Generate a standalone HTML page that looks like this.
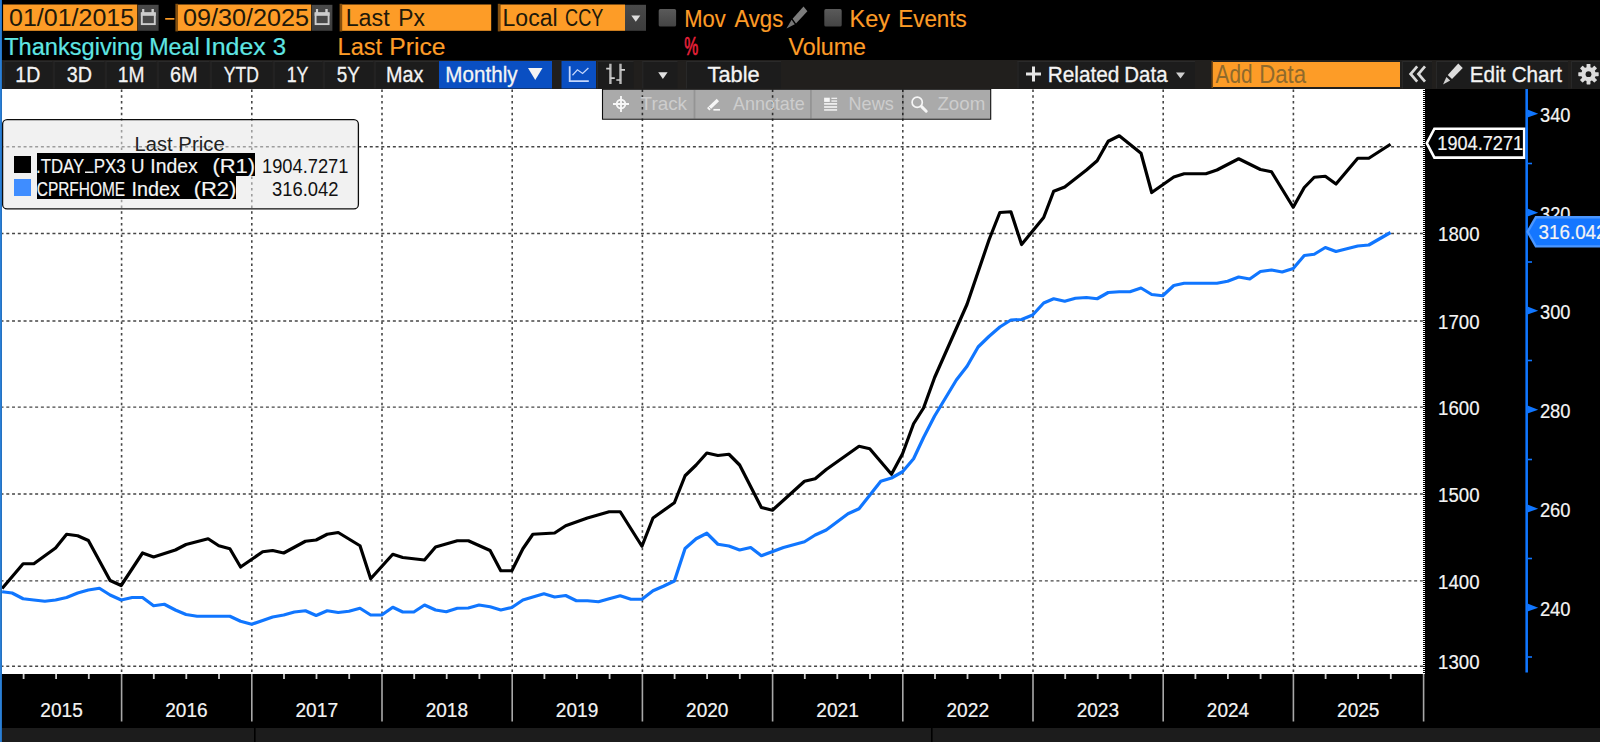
<!DOCTYPE html><html><head><meta charset="utf-8"><title>Chart</title>
<style>html,body{margin:0;padding:0;background:#000;overflow:hidden}svg{display:block}text{font-family:"Liberation Sans",sans-serif;white-space:pre}</style>
</head><body>
<svg width="1600" height="742" viewBox="0 0 1600 742">
<rect width="1600" height="742" fill="#000"/>
<rect x="2" y="89" width="1421" height="585" fill="#fff"/>
<g stroke="#464646" fill="none">
<line x1="0.5" y1="146.7" x2="1423" y2="146.7" stroke-width="1.4" stroke-dasharray="3 2.77"/>
<line x1="0.5" y1="233.5" x2="1423" y2="233.5" stroke-width="1.4" stroke-dasharray="3 2.77"/>
<line x1="0.5" y1="321.0" x2="1423" y2="321.0" stroke-width="1.4" stroke-dasharray="3 2.77"/>
<line x1="0.5" y1="407.1" x2="1423" y2="407.1" stroke-width="1.4" stroke-dasharray="3 2.77"/>
<line x1="0.5" y1="494.0" x2="1423" y2="494.0" stroke-width="1.4" stroke-dasharray="3 2.77"/>
<line x1="0.5" y1="580.9" x2="1423" y2="580.9" stroke-width="1.4" stroke-dasharray="3 2.77"/>
<line x1="0.5" y1="666.3" x2="1423" y2="666.3" stroke-width="1.4" stroke-dasharray="3 2.77"/>
<line x1="121.6" y1="89.5" x2="121.6" y2="674" stroke-width="1.6" stroke-dasharray="2.5 3.3"/>
<line x1="251.8" y1="89.5" x2="251.8" y2="674" stroke-width="1.6" stroke-dasharray="2.5 3.3"/>
<line x1="382.0" y1="89.5" x2="382.0" y2="674" stroke-width="1.6" stroke-dasharray="2.5 3.3"/>
<line x1="512.2" y1="89.5" x2="512.2" y2="674" stroke-width="1.6" stroke-dasharray="2.5 3.3"/>
<line x1="642.4" y1="89.5" x2="642.4" y2="674" stroke-width="1.6" stroke-dasharray="2.5 3.3"/>
<line x1="772.6" y1="89.5" x2="772.6" y2="674" stroke-width="1.6" stroke-dasharray="2.5 3.3"/>
<line x1="902.8" y1="89.5" x2="902.8" y2="674" stroke-width="1.6" stroke-dasharray="2.5 3.3"/>
<line x1="1033.0" y1="89.5" x2="1033.0" y2="674" stroke-width="1.6" stroke-dasharray="2.5 3.3"/>
<line x1="1163.2" y1="89.5" x2="1163.2" y2="674" stroke-width="1.6" stroke-dasharray="2.5 3.3"/>
<line x1="1293.4" y1="89.5" x2="1293.4" y2="674" stroke-width="1.6" stroke-dasharray="2.5 3.3"/>
</g>
<line x1="1424" y1="89" x2="1424" y2="674" stroke="#fff" stroke-width="2" stroke-dasharray="1 1" shape-rendering="crispEdges"/>
<polyline points="2.09,591.75 12.08,593 23.13,598.75 33.82,600 44.87,601.25 55.56,600 66.61,597.5 77.67,593 88.36,590 99.41,588.25 110.1,595 121.15,600 132.2,597.5 142.54,597.5 153.59,605.75 164.29,604.25 175.34,610 186.03,614.5 197.08,616.25 229.88,616.25 240.57,621.25 251.62,624.25 262.67,620.5 272.65,617 283.7,615 294.4,612 305.45,610.75 316.14,615.5 327.19,610.75 338.24,612.5 348.94,611.25 359.99,608.25 370.68,615 381.73,615 392.78,607.25 402.76,612 413.81,612 424.51,605 435.56,610 446.25,611.75 457.3,608.25 468.35,608 479.05,605 490.1,606.75 500.79,610 511.84,607.5 522.89,600 532.88,597 543.93,593.75 554.62,597 565.67,595.5 576.36,600.75 587.41,600.75 598.47,601.75 609.16,598.75 620.21,595.75 630.9,599.25 641.95,599.25 653.0,590.75 663.34,586.25 674.39,581 685.09,548.5 696.14,538.75 706.83,533.25 717.88,544.25 728.93,546 739.63,550 750.68,547.5 761.37,555.75 783.47,547.5 804.5,541.75 815.2,535 826.25,530 847.99,513.75 859.04,508.75 880.79,481.25 891.48,478 902.53,471.75 913.58,458.75 923.56,437.5 934.61,416 956.36,380 967.05,366.25 978.1,347 989.15,336.25 999.85,327 1010.9,320 1021.59,319.5 1032.64,315 1043.69,303 1053.68,298.75 1064.73,301.25 1075.42,298.25 1086.47,297.5 1097.16,298.75 1108.21,292.5 1119.27,291.75 1129.96,291.75 1141.01,288 1151.7,294.5 1162.75,295.75 1173.8,285.5 1184.14,283.25 1216.94,283.25 1227.63,281.25 1238.68,277 1249.73,279 1260.43,271.5 1271.48,270 1282.17,272 1293.22,268.5 1304.27,255.5 1314.25,254.25 1325.3,247.5 1336.0,251.5 1357.74,246 1368.79,245 1390.54,232.5" fill="none" stroke="#1076ff" stroke-width="3.2" stroke-linejoin="round" stroke-linecap="butt"/>
<polyline points="2.09,588.5 23.13,563.75 33.82,563.75 55.56,548 66.61,534.25 77.67,535.75 88.36,540.5 110.1,580.5 121.15,585.5 142.54,553 153.59,557 175.34,550 186.03,544.5 208.13,538.75 218.83,545.75 229.88,548.75 240.57,567 262.67,551.75 272.65,550.5 283.7,553 305.45,541.25 316.14,540 327.19,534.25 338.24,532.5 359.99,545.75 370.68,578.75 392.78,554.25 402.76,557.5 424.51,560 435.56,547 457.3,540.75 468.35,540.75 490.1,550.5 500.79,570.75 511.84,570.75 522.89,548.75 532.88,534.25 554.62,533 565.67,525.75 587.41,518 609.16,511.75 620.21,511.75 641.95,546.25 653.0,518 674.39,502.75 685.09,475.75 696.14,465 706.83,453 717.88,455.5 728.93,454.25 739.63,465 761.37,507.5 772.42,510.25 804.5,481.25 815.2,478.75 826.25,469.5 859.04,446.25 869.74,448.75 891.48,474.25 902.53,453.75 913.58,423.75 923.56,408 934.61,377.5 967.05,304.25 989.15,239.5 999.85,212.5 1010.9,211.75 1021.59,244.5 1043.69,217.5 1053.68,191.25 1064.73,187 1086.47,170 1097.16,160.75 1108.21,141.25 1119.27,135.75 1141.01,153.25 1151.7,192.5 1173.8,177 1184.14,173.75 1205.89,173.75 1216.94,170 1238.68,158.75 1260.43,169.5 1271.48,171.75 1293.22,207.25 1304.27,187.5 1314.25,177.25 1325.3,176.25 1336.0,184 1357.74,158.25 1368.79,158.25 1390.54,144.25" fill="none" stroke="#000" stroke-width="3.2" stroke-linejoin="round" stroke-linecap="butt"/>
<rect x="603" y="89" width="387.5" height="30" fill="#000" fill-opacity="0.335"/>
<path d="M602.5 89.2V119.3H990.7V89.2Z" fill="none" stroke="#0c0c0c" stroke-width="1.1"/>
<rect x="693.6" y="90" width="1.8" height="28.5" fill="#000" opacity="0.13"/>
<rect x="810" y="90" width="1.8" height="28.5" fill="#000" opacity="0.13"/>
<rect x="902" y="90" width="1.8" height="28.5" fill="#000" opacity="0.13"/>
<g stroke="#f6f6f6" stroke-width="1.9" fill="none"><circle cx="621" cy="104" r="4.3"/><path d="M621 96v16M613 104h16"/></g>
<g stroke="#f6f6f6" fill="none"><path d="M708.2 109.2L717.9 100.1" stroke-width="3.4"/><path d="M713.4 109.8H720" stroke-width="1.7"/></g><path d="M708.6 106.6l2.6 2.8" stroke="#aaa" stroke-width="0.8"/>
<g fill="#f6f6f6"><rect x="824.1" y="97.7" width="5.7" height="4.2"/><rect x="831.4" y="97.7" width="5.7" height="1.2"/><rect x="831.4" y="100.4" width="5.7" height="1.3"/><rect x="824.1" y="103.1" width="13" height="1.6"/><rect x="824.1" y="106.2" width="13" height="1.6"/><rect x="824.1" y="109.2" width="13" height="1.5"/></g>
<g stroke="#f6f6f6" fill="none"><circle cx="917.2" cy="102.3" r="5.1" stroke-width="1.7"/><path d="M921.6 106.6l4.6 4.6" stroke-width="3" stroke-linecap="round"/></g>
<rect x="2.6" y="119.7" width="355.8" height="89.2" rx="4.5" ry="4.5" fill="#e6e6e6" fill-opacity="0.55" stroke="#0c0c0c" stroke-width="1.3"/>
<rect x="14" y="156" width="17" height="17" fill="#000"/>
<rect x="14" y="179" width="17" height="17" fill="#3f8dff"/>
<rect x="37" y="153" width="218" height="23" fill="#000"/>
<rect x="37" y="176" width="199" height="23" fill="#000"/>
<rect x="85" y="171.5" width="8.6" height="1.5" fill="#f0f0f0"/>
<rect x="3" y="4.5" width="134.3" height="26.3" fill="#fd9c27"/>
<rect x="0.6000000000000001" y="3.8" width="2.6" height="27.6" fill="#85500f"/>
<rect x="177.8" y="4.5" width="133.4" height="26.3" fill="#fd9c27"/>
<rect x="175.4" y="3.8" width="2.6" height="27.6" fill="#85500f"/>
<rect x="342" y="4.5" width="149.2" height="26.3" fill="#fd9c27"/>
<rect x="339.6" y="3.8" width="2.6" height="27.6" fill="#85500f"/>
<rect x="500.2" y="4.5" width="124.8" height="26.3" fill="#fd9c27"/>
<rect x="497.8" y="3.8" width="2.6" height="27.6" fill="#85500f"/>
<defs><linearGradient id="gbox" x1="0" y1="0" x2="0" y2="1"><stop offset="0" stop-color="#494949"/><stop offset="1" stop-color="#3d3d3d"/></linearGradient><linearGradient id="gchk" x1="0" y1="0" x2="0" y2="1"><stop offset="0" stop-color="#5a5a5a"/><stop offset="1" stop-color="#444"/></linearGradient></defs>
<rect x="138" y="4.8" width="20.6" height="26" fill="url(#gbox)"/>
<rect x="141.8" y="13.3" width="13.0" height="10.8" fill="#484848" stroke="#cdcdcd" stroke-width="1.9"/>
<rect x="140.9" y="12.4" width="14.8" height="3.4" fill="#cdcdcd"/>
<rect x="142.1" y="9" width="2.2" height="4" fill="#cdcdcd"/><rect x="151.5" y="9" width="2.4" height="4" fill="#cdcdcd"/>
<rect x="311.8" y="4.8" width="20.6" height="26" fill="url(#gbox)"/>
<rect x="315.6" y="13.3" width="13.0" height="10.8" fill="#484848" stroke="#cdcdcd" stroke-width="1.9"/>
<rect x="314.7" y="12.4" width="14.8" height="3.4" fill="#cdcdcd"/>
<rect x="315.90000000000003" y="9" width="2.2" height="4" fill="#cdcdcd"/><rect x="325.3" y="9" width="2.4" height="4" fill="#cdcdcd"/>
<rect x="165.2" y="18" width="9.2" height="1.7" fill="#fd9c27"/>
<rect x="625" y="4.8" width="21" height="26" fill="url(#gbox)"/>
<path d="M631.3 15.4h9l-4.5 6.4z" fill="#ddd"/>
<rect x="658.7" y="9.1" width="17.4" height="17.4" rx="1.6" fill="url(#gchk)"/>
<rect x="824.3" y="9.1" width="17.4" height="17.4" rx="1.6" fill="url(#gchk)"/>
<path d="M803.5 6.5L807.4 11.2L796 23.5L792.6 18.8Z" fill="#7c7c7c"/><path d="M791.6 19.8L794.8 24.3L786.5 28.5Z" fill="#777"/>
<rect x="2" y="60" width="1598" height="29" fill="#211f1d"/>
<rect x="3.5" y="61" width="49.0" height="27.5" fill="#1c1c1c"/>
<rect x="3.5" y="61" width="49.0" height="1" fill="#2a2a2a"/>
<rect x="3.5" y="61" width="1" height="27.5" fill="#282828"/>
<rect x="53.5" y="61" width="51.0" height="27.5" fill="#1c1c1c"/>
<rect x="53.5" y="61" width="51.0" height="1" fill="#2a2a2a"/>
<rect x="53.5" y="61" width="1" height="27.5" fill="#282828"/>
<rect x="105.5" y="61" width="51.0" height="27.5" fill="#1c1c1c"/>
<rect x="105.5" y="61" width="51.0" height="1" fill="#2a2a2a"/>
<rect x="105.5" y="61" width="1" height="27.5" fill="#282828"/>
<rect x="157.5" y="61" width="52.0" height="27.5" fill="#1c1c1c"/>
<rect x="157.5" y="61" width="52.0" height="1" fill="#2a2a2a"/>
<rect x="157.5" y="61" width="1" height="27.5" fill="#282828"/>
<rect x="210.5" y="61" width="62.0" height="27.5" fill="#1c1c1c"/>
<rect x="210.5" y="61" width="62.0" height="1" fill="#2a2a2a"/>
<rect x="210.5" y="61" width="1" height="27.5" fill="#282828"/>
<rect x="273.5" y="61" width="49.0" height="27.5" fill="#1c1c1c"/>
<rect x="273.5" y="61" width="49.0" height="1" fill="#2a2a2a"/>
<rect x="273.5" y="61" width="1" height="27.5" fill="#282828"/>
<rect x="323.5" y="61" width="50.0" height="27.5" fill="#1c1c1c"/>
<rect x="323.5" y="61" width="50.0" height="1" fill="#2a2a2a"/>
<rect x="323.5" y="61" width="1" height="27.5" fill="#282828"/>
<rect x="374.5" y="61" width="64.0" height="27.5" fill="#1c1c1c"/>
<rect x="374.5" y="61" width="64.0" height="1" fill="#2a2a2a"/>
<rect x="374.5" y="61" width="1" height="27.5" fill="#282828"/>
<rect x="439" y="61" width="113" height="27.5" fill="#0a4fc2"/>
<rect x="561.5" y="61" width="34.5" height="27.5" fill="#0a4fc2"/>
<rect x="597" y="61" width="36.60000000000002" height="27.5" fill="#1c1c1c"/>
<rect x="597" y="61" width="36.60000000000002" height="1" fill="#2a2a2a"/>
<rect x="597" y="61" width="1" height="27.5" fill="#282828"/>
<rect x="642.3" y="61" width="35.200000000000045" height="27.5" fill="#1c1c1c"/>
<rect x="642.3" y="61" width="35.200000000000045" height="1" fill="#2a2a2a"/>
<rect x="642.3" y="61" width="1" height="27.5" fill="#282828"/>
<rect x="686" y="61" width="95" height="27.5" fill="#1c1c1c"/>
<rect x="686" y="61" width="95" height="1" fill="#2a2a2a"/>
<rect x="686" y="61" width="1" height="27.5" fill="#282828"/>
<rect x="1017.5" y="61" width="177.5" height="27.5" fill="#1c1c1c"/>
<rect x="1017.5" y="61" width="177.5" height="1" fill="#2a2a2a"/>
<rect x="1017.5" y="61" width="1" height="27.5" fill="#282828"/>
<rect x="1402" y="61" width="30" height="27.5" fill="#1c1c1c"/>
<rect x="1402" y="61" width="30" height="1" fill="#2a2a2a"/>
<rect x="1402" y="61" width="1" height="27.5" fill="#282828"/>
<rect x="1436" y="61" width="132" height="27.5" fill="#1c1c1c"/>
<rect x="1436" y="61" width="132" height="1" fill="#2a2a2a"/>
<rect x="1436" y="61" width="1" height="27.5" fill="#282828"/>
<rect x="1571" y="61" width="29" height="27.5" fill="#1c1c1c"/>
<rect x="1571" y="61" width="29" height="1" fill="#2a2a2a"/>
<rect x="1571" y="61" width="1" height="27.5" fill="#282828"/>
<path d="M528 68h14.5l-7.25 12z" fill="#f4f4f4"/>
<g fill="none" stroke="#c4d6fb"><path d="M569.7 66.2V81.1H588.8" stroke-width="1.8"/><path d="M572.5 75.2L577.4 69.8L582.6 73.5L588.4 68.1" stroke-width="1.3"/></g>
<g stroke="#b8b8b8" fill="none"><path d="M610.4 63.7V84M620.5 63.7V84" stroke-width="2.4"/><path d="M606.2 68.6H610.4M610.4 78.1H614.8M616.3 80H620.5M620.5 69.8H625" stroke-width="1.7" stroke="#cfcfcf"/></g>
<path d="M658.2 72.3h9.4l-4.7 6.6z" fill="#e0e0e0"/>
<path d="M1026 74h15M1033.5 66.5v15" stroke="#e6e6e6" stroke-width="3" fill="none"/>
<path d="M1176 72.5h9l-4.5 6z" fill="#cfcfcf"/>
<rect x="1212.5" y="62" width="187.5" height="25" fill="#fd9c27"/>
<rect x="1211.5" y="61" width="1.5" height="27" fill="#7a4a10"/>
<g fill="none" stroke="#dadada" stroke-width="2.7"><path d="M1417.2 66.3l-6.6 7.7 6.6 7.7M1425 66.3l-6.6 7.7 6.6 7.7"/></g>
<path d="M1458.25 63.5L1462.75 68L1452 79L1447.75 75Z" fill="#dcdcdc"/><path d="M1446.4 76.9L1450.2 80.6L1443 84.5Z" fill="#d0d0d0"/>
<g transform="translate(1588.5,74.2)" fill="#dcdcdc"><rect x="-1.95" y="-10.2" width="3.9" height="5" rx="0.6" transform="rotate(0)"/><rect x="-1.95" y="-10.2" width="3.9" height="5" rx="0.6" transform="rotate(45)"/><rect x="-1.95" y="-10.2" width="3.9" height="5" rx="0.6" transform="rotate(90)"/><rect x="-1.95" y="-10.2" width="3.9" height="5" rx="0.6" transform="rotate(135)"/><rect x="-1.95" y="-10.2" width="3.9" height="5" rx="0.6" transform="rotate(180)"/><rect x="-1.95" y="-10.2" width="3.9" height="5" rx="0.6" transform="rotate(225)"/><rect x="-1.95" y="-10.2" width="3.9" height="5" rx="0.6" transform="rotate(270)"/><rect x="-1.95" y="-10.2" width="3.9" height="5" rx="0.6" transform="rotate(315)"/><circle r="7.3" /><circle r="2.9" fill="#1c1c1c"/></g>
<g fill="#cfcfcf">
<rect x="22.7" y="674" width="1.8" height="5"/>
<rect x="55.2" y="674" width="1.8" height="5"/>
<rect x="87.9" y="674" width="1.8" height="5"/>
<rect x="152.9" y="674" width="1.8" height="5"/>
<rect x="185.4" y="674" width="1.8" height="5"/>
<rect x="218.1" y="674" width="1.8" height="5"/>
<rect x="283.1" y="674" width="1.8" height="5"/>
<rect x="315.6" y="674" width="1.8" height="5"/>
<rect x="348.3" y="674" width="1.8" height="5"/>
<rect x="413.3" y="674" width="1.8" height="5"/>
<rect x="445.8" y="674" width="1.8" height="5"/>
<rect x="478.5" y="674" width="1.8" height="5"/>
<rect x="543.5" y="674" width="1.8" height="5"/>
<rect x="576.0" y="674" width="1.8" height="5"/>
<rect x="608.7" y="674" width="1.8" height="5"/>
<rect x="673.7" y="674" width="1.8" height="5"/>
<rect x="706.2" y="674" width="1.8" height="5"/>
<rect x="738.9" y="674" width="1.8" height="5"/>
<rect x="803.9" y="674" width="1.8" height="5"/>
<rect x="836.4" y="674" width="1.8" height="5"/>
<rect x="869.1" y="674" width="1.8" height="5"/>
<rect x="934.1" y="674" width="1.8" height="5"/>
<rect x="966.6" y="674" width="1.8" height="5"/>
<rect x="999.3" y="674" width="1.8" height="5"/>
<rect x="1064.3" y="674" width="1.8" height="5"/>
<rect x="1096.8" y="674" width="1.8" height="5"/>
<rect x="1129.5" y="674" width="1.8" height="5"/>
<rect x="1194.5" y="674" width="1.8" height="5"/>
<rect x="1227.0" y="674" width="1.8" height="5"/>
<rect x="1259.7" y="674" width="1.8" height="5"/>
<rect x="1324.7" y="674" width="1.8" height="5"/>
<rect x="1357.2" y="674" width="1.8" height="5"/>
<rect x="1389.9" y="674" width="1.8" height="5"/>
</g>
<rect x="120.80" y="674" width="1.6" height="47.5" fill="#a8a8a8"/>
<rect x="251.00" y="674" width="1.6" height="47.5" fill="#a8a8a8"/>
<rect x="381.20" y="674" width="1.6" height="47.5" fill="#a8a8a8"/>
<rect x="511.40" y="674" width="1.6" height="47.5" fill="#a8a8a8"/>
<rect x="641.60" y="674" width="1.6" height="47.5" fill="#a8a8a8"/>
<rect x="771.80" y="674" width="1.6" height="47.5" fill="#a8a8a8"/>
<rect x="902.00" y="674" width="1.6" height="47.5" fill="#a8a8a8"/>
<rect x="1032.20" y="674" width="1.6" height="47.5" fill="#a8a8a8"/>
<rect x="1162.40" y="674" width="1.6" height="47.5" fill="#a8a8a8"/>
<rect x="1292.60" y="674" width="1.6" height="47.5" fill="#a8a8a8"/>
<rect x="1422.80" y="674" width="1.6" height="47.5" fill="#a8a8a8"/>
<rect x="2" y="728" width="1598" height="14" fill="#1c1c1c"/>
<rect x="254" y="728" width="1.6" height="14" fill="#000"/><rect x="931" y="728" width="1.6" height="14" fill="#000"/>
<path d="M1426.8 143.2L1434.4 128.7H1524.2V157.6H1434.4Z" fill="#000" stroke="#fff" stroke-width="2.6" stroke-linejoin="miter"/>
<rect x="1525.4" y="89" width="2.55" height="583.5" fill="#1076ff"/>
<path d="M1527.5 109.6L1538.2 113.8L1527.5 117.6Z" fill="#1076ff"/>
<path d="M1527.5 208.6L1538.2 212.8L1527.5 216.6Z" fill="#1076ff"/>
<path d="M1527.5 306.6L1538.2 310.8L1527.5 314.6Z" fill="#1076ff"/>
<path d="M1527.5 405.6L1538.2 409.8L1527.5 413.6Z" fill="#1076ff"/>
<path d="M1527.5 504.6L1538.2 508.8L1527.5 512.6Z" fill="#1076ff"/>
<path d="M1527.5 603.6L1538.2 607.8L1527.5 611.6Z" fill="#1076ff"/>
<rect x="1528" y="162.7" width="4" height="1.6" fill="#1076ff"/>
<rect x="1528" y="261.2" width="4" height="1.6" fill="#1076ff"/>
<rect x="1528" y="359.7" width="4" height="1.6" fill="#1076ff"/>
<rect x="1528" y="458.7" width="4" height="1.6" fill="#1076ff"/>
<rect x="1528" y="557.7" width="4" height="1.6" fill="#1076ff"/>
<rect x="1528" y="656.2" width="4" height="1.6" fill="#1076ff"/>
<rect x="0" y="0" width="3" height="60" fill="#000"/><rect x="0" y="0" width="1.9" height="742" fill="#2a7fd6"/>
<text x="9.00" y="25.7" font-size="23.48" textLength="125.12" lengthAdjust="spacingAndGlyphs" fill="#20180a">01/01/2015</text>
<text x="182.99" y="25.7" font-size="23.48" textLength="126.14" lengthAdjust="spacingAndGlyphs" fill="#20180a">09/30/2025</text>
<text x="345.64" y="25.7" font-size="23.48" textLength="44.00" lengthAdjust="spacingAndGlyphs" fill="#20180a">Last</text>
<text x="398.18" y="25.7" font-size="23.48" textLength="26.61" lengthAdjust="spacingAndGlyphs" fill="#20180a">Px</text>
<text x="502.56" y="25.7" font-size="23.48" textLength="55.07" lengthAdjust="spacingAndGlyphs" fill="#20180a">Local</text>
<text x="565.09" y="25.7" font-size="23.48" textLength="38.30" lengthAdjust="spacingAndGlyphs" fill="#20180a">CCY</text>
<text x="684.24" y="26.5" font-size="24.78" textLength="41.56" lengthAdjust="spacingAndGlyphs" fill="#fd9c27" stroke="#fd9c27" stroke-width="0.15">Mov</text>
<text x="734.40" y="26.5" font-size="24.78" textLength="48.88" lengthAdjust="spacingAndGlyphs" fill="#fd9c27" stroke="#fd9c27" stroke-width="0.15">Avgs</text>
<text x="849.52" y="26.5" font-size="24.78" textLength="40.56" lengthAdjust="spacingAndGlyphs" fill="#fd9c27" stroke="#fd9c27" stroke-width="0.15">Key</text>
<text x="898.20" y="26.5" font-size="24.78" textLength="68.63" lengthAdjust="spacingAndGlyphs" fill="#fd9c27" stroke="#fd9c27" stroke-width="0.15">Events</text>
<text x="4.13" y="54.5" font-size="24.64" textLength="139.04" lengthAdjust="spacingAndGlyphs" fill="#5fe6e4" stroke="#5fe6e4" stroke-width="0.2">Thanksgiving</text>
<text x="149.14" y="54.5" font-size="24.64" textLength="50.43" lengthAdjust="spacingAndGlyphs" fill="#5fe6e4" stroke="#5fe6e4" stroke-width="0.2">Meal</text>
<text x="204.75" y="54.5" font-size="24.64" textLength="61.06" lengthAdjust="spacingAndGlyphs" fill="#5fe6e4" stroke="#5fe6e4" stroke-width="0.2">Index</text>
<text x="272.79" y="54.5" font-size="24.64" textLength="13.31" lengthAdjust="spacingAndGlyphs" fill="#5fe6e4" stroke="#5fe6e4" stroke-width="0.2">3</text>
<text x="337.51" y="54.5" font-size="24.64" textLength="44.63" lengthAdjust="spacingAndGlyphs" fill="#fd9c27" stroke="#fd9c27" stroke-width="0.15">Last</text>
<text x="389.27" y="54.5" font-size="24.64" textLength="56.33" lengthAdjust="spacingAndGlyphs" fill="#fd9c27" stroke="#fd9c27" stroke-width="0.15">Price</text>
<text x="684.37" y="54.8" font-size="25.36" textLength="14.00" lengthAdjust="spacingAndGlyphs" fill="#e8203a" stroke="#e8203a" stroke-width="0.7">%</text>
<text x="788.52" y="54.5" font-size="24.64" textLength="77.54" lengthAdjust="spacingAndGlyphs" fill="#fd9c27" stroke="#fd9c27" stroke-width="0.15">Volume</text>
<text x="15.33" y="81.7" font-size="22.46" textLength="25.01" lengthAdjust="spacingAndGlyphs" fill="#f4f4f4" stroke="#f4f4f4" stroke-width="0.3">1D</text>
<text x="66.71" y="81.7" font-size="22.46" textLength="25.25" lengthAdjust="spacingAndGlyphs" fill="#f4f4f4" stroke="#f4f4f4" stroke-width="0.3">3D</text>
<text x="117.87" y="81.7" font-size="22.46" textLength="26.65" lengthAdjust="spacingAndGlyphs" fill="#f4f4f4" stroke="#f4f4f4" stroke-width="0.3">1M</text>
<text x="170.01" y="81.7" font-size="22.46" textLength="27.56" lengthAdjust="spacingAndGlyphs" fill="#f4f4f4" stroke="#f4f4f4" stroke-width="0.3">6M</text>
<text x="223.87" y="81.7" font-size="22.46" textLength="35.10" lengthAdjust="spacingAndGlyphs" fill="#f4f4f4" stroke="#f4f4f4" stroke-width="0.3">YTD</text>
<text x="286.67" y="81.7" font-size="22.46" textLength="21.84" lengthAdjust="spacingAndGlyphs" fill="#f4f4f4" stroke="#f4f4f4" stroke-width="0.3">1Y</text>
<text x="336.74" y="81.7" font-size="22.46" textLength="23.09" lengthAdjust="spacingAndGlyphs" fill="#f4f4f4" stroke="#f4f4f4" stroke-width="0.3">5Y</text>
<text x="385.92" y="81.7" font-size="22.46" textLength="37.36" lengthAdjust="spacingAndGlyphs" fill="#f4f4f4" stroke="#f4f4f4" stroke-width="0.3">Max</text>
<text x="445.35" y="81.7" font-size="22.46" textLength="72.18" lengthAdjust="spacingAndGlyphs" fill="#f4f4f4" stroke="#f4f4f4" stroke-width="0.3">Monthly</text>
<text x="707.56" y="81.7" font-size="22.46" textLength="52.07" lengthAdjust="spacingAndGlyphs" fill="#f4f4f4" stroke="#f4f4f4" stroke-width="0.3">Table</text>
<text x="1047.74" y="81.7" font-size="22.46" textLength="71.65" lengthAdjust="spacingAndGlyphs" fill="#f4f4f4" stroke="#f4f4f4" stroke-width="0.3">Related</text>
<text x="1124.36" y="81.7" font-size="22.46" textLength="43.18" lengthAdjust="spacingAndGlyphs" fill="#f4f4f4" stroke="#f4f4f4" stroke-width="0.3">Data</text>
<text x="1469.74" y="81.7" font-size="22.46" textLength="35.83" lengthAdjust="spacingAndGlyphs" fill="#f4f4f4" stroke="#f4f4f4" stroke-width="0.3">Edit</text>
<text x="1511.67" y="81.7" font-size="22.46" textLength="50.44" lengthAdjust="spacingAndGlyphs" fill="#f4f4f4" stroke="#f4f4f4" stroke-width="0.3">Chart</text>
<text x="1215.60" y="82.9" font-size="25.07" textLength="36.84" lengthAdjust="spacingAndGlyphs" fill="#8f6a2c">Add</text>
<text x="1259.23" y="82.9" font-size="25.07" textLength="46.83" lengthAdjust="spacingAndGlyphs" fill="#8f6a2c">Data</text>
<text x="640.62" y="110.1" font-size="17.97" textLength="46.43" lengthAdjust="spacingAndGlyphs" fill="#cdcdcd">Track</text>
<text x="733.00" y="110.1" font-size="17.97" textLength="71.78" lengthAdjust="spacingAndGlyphs" fill="#cdcdcd">Annotate</text>
<text x="848.55" y="110.1" font-size="17.97" textLength="45.18" lengthAdjust="spacingAndGlyphs" fill="#cdcdcd">News</text>
<text x="937.44" y="110.1" font-size="17.97" textLength="47.80" lengthAdjust="spacingAndGlyphs" fill="#cdcdcd">Zoom</text>
<text x="134.64" y="150.5" font-size="20.00" textLength="38.07" lengthAdjust="spacingAndGlyphs" fill="#222">Last</text>
<text x="178.37" y="150.5" font-size="20.00" textLength="46.36" lengthAdjust="spacingAndGlyphs" fill="#222">Price</text>
<text x="35.98" y="173" font-size="19.71" textLength="48.33" lengthAdjust="spacingAndGlyphs" fill="#f6f6f6" stroke="#f6f6f6" stroke-width="0.15">.TDAY</text>
<text x="93.64" y="173" font-size="19.71" textLength="32.04" lengthAdjust="spacingAndGlyphs" fill="#f6f6f6" stroke="#f6f6f6" stroke-width="0.15">PX3</text>
<text x="131.00" y="173" font-size="19.71" textLength="13.54" lengthAdjust="spacingAndGlyphs" fill="#f6f6f6" stroke="#f6f6f6" stroke-width="0.15">U</text>
<text x="150.25" y="173" font-size="19.71" textLength="47.57" lengthAdjust="spacingAndGlyphs" fill="#f6f6f6" stroke="#f6f6f6" stroke-width="0.15">Index</text>
<text x="212.43" y="173" font-size="19.71" textLength="42.73" lengthAdjust="spacingAndGlyphs" fill="#f6f6f6" stroke="#f6f6f6" stroke-width="0.15">(R1)</text>
<text x="36.73" y="195.7" font-size="19.71" textLength="88.42" lengthAdjust="spacingAndGlyphs" fill="#f6f6f6" stroke="#f6f6f6" stroke-width="0.15">CPRFHOME</text>
<text x="131.47" y="195.7" font-size="19.71" textLength="48.35" lengthAdjust="spacingAndGlyphs" fill="#f6f6f6" stroke="#f6f6f6" stroke-width="0.15">Index</text>
<text x="193.68" y="195.7" font-size="19.71" textLength="42.73" lengthAdjust="spacingAndGlyphs" fill="#f6f6f6" stroke="#f6f6f6" stroke-width="0.15">(R2)</text>
<text x="262.04" y="173" font-size="19.57" textLength="86.43" lengthAdjust="spacingAndGlyphs" fill="#111">1904.7271</text>
<text x="272.06" y="195.7" font-size="19.42" textLength="66.44" lengthAdjust="spacingAndGlyphs" fill="#111">316.042</text>
<text x="1438.11" y="241.3" font-size="19.71" textLength="41.42" lengthAdjust="spacingAndGlyphs" fill="#f4f4f4" stroke="#f4f4f4" stroke-width="0.2">1800</text>
<text x="1438.11" y="328.8" font-size="19.71" textLength="41.42" lengthAdjust="spacingAndGlyphs" fill="#f4f4f4" stroke="#f4f4f4" stroke-width="0.2">1700</text>
<text x="1438.11" y="414.90000000000003" font-size="19.71" textLength="41.42" lengthAdjust="spacingAndGlyphs" fill="#f4f4f4" stroke="#f4f4f4" stroke-width="0.2">1600</text>
<text x="1438.11" y="501.8" font-size="19.71" textLength="41.42" lengthAdjust="spacingAndGlyphs" fill="#f4f4f4" stroke="#f4f4f4" stroke-width="0.2">1500</text>
<text x="1438.11" y="588.6999999999999" font-size="19.71" textLength="41.42" lengthAdjust="spacingAndGlyphs" fill="#f4f4f4" stroke="#f4f4f4" stroke-width="0.2">1400</text>
<text x="1438.11" y="668.7" font-size="19.71" textLength="41.42" lengthAdjust="spacingAndGlyphs" fill="#f4f4f4" stroke="#f4f4f4" stroke-width="0.2">1300</text>
<text x="1437.35" y="150.4" font-size="20.87" textLength="85.71" lengthAdjust="spacingAndGlyphs" fill="#f4f4f4" stroke="#f4f4f4" stroke-width="0.2">1904.7271</text>
<text x="1540.07" y="121.6" font-size="20.00" textLength="30.43" lengthAdjust="spacingAndGlyphs" fill="#f4f4f4" stroke="#f4f4f4" stroke-width="0.2">340</text>
<text x="1540.07" y="220.6" font-size="20.00" textLength="30.43" lengthAdjust="spacingAndGlyphs" fill="#f4f4f4" stroke="#f4f4f4" stroke-width="0.2">320</text>
<text x="1540.07" y="318.6" font-size="20.00" textLength="30.43" lengthAdjust="spacingAndGlyphs" fill="#f4f4f4" stroke="#f4f4f4" stroke-width="0.2">300</text>
<text x="1539.88" y="417.6" font-size="20.00" textLength="30.63" lengthAdjust="spacingAndGlyphs" fill="#f4f4f4" stroke="#f4f4f4" stroke-width="0.2">280</text>
<text x="1539.88" y="516.6" font-size="20.00" textLength="30.63" lengthAdjust="spacingAndGlyphs" fill="#f4f4f4" stroke="#f4f4f4" stroke-width="0.2">260</text>
<text x="1539.88" y="615.6" font-size="20.00" textLength="30.63" lengthAdjust="spacingAndGlyphs" fill="#f4f4f4" stroke="#f4f4f4" stroke-width="0.2">240</text>
<text x="40.35" y="717" font-size="20.29" textLength="42.40" lengthAdjust="spacingAndGlyphs" fill="#f4f4f4" stroke="#f4f4f4" stroke-width="0.2">2015</text>
<text x="165.25" y="717" font-size="20.29" textLength="42.40" lengthAdjust="spacingAndGlyphs" fill="#f4f4f4" stroke="#f4f4f4" stroke-width="0.2">2016</text>
<text x="295.44" y="717" font-size="20.29" textLength="42.60" lengthAdjust="spacingAndGlyphs" fill="#f4f4f4" stroke="#f4f4f4" stroke-width="0.2">2017</text>
<text x="425.65" y="717" font-size="20.29" textLength="42.40" lengthAdjust="spacingAndGlyphs" fill="#f4f4f4" stroke="#f4f4f4" stroke-width="0.2">2018</text>
<text x="555.85" y="717" font-size="20.29" textLength="42.40" lengthAdjust="spacingAndGlyphs" fill="#f4f4f4" stroke="#f4f4f4" stroke-width="0.2">2019</text>
<text x="686.05" y="717" font-size="20.29" textLength="42.40" lengthAdjust="spacingAndGlyphs" fill="#f4f4f4" stroke="#f4f4f4" stroke-width="0.2">2020</text>
<text x="816.24" y="717" font-size="20.29" textLength="42.60" lengthAdjust="spacingAndGlyphs" fill="#f4f4f4" stroke="#f4f4f4" stroke-width="0.2">2021</text>
<text x="946.44" y="717" font-size="20.29" textLength="42.60" lengthAdjust="spacingAndGlyphs" fill="#f4f4f4" stroke="#f4f4f4" stroke-width="0.2">2022</text>
<text x="1076.65" y="717" font-size="20.29" textLength="42.40" lengthAdjust="spacingAndGlyphs" fill="#f4f4f4" stroke="#f4f4f4" stroke-width="0.2">2023</text>
<text x="1206.85" y="717" font-size="20.29" textLength="42.21" lengthAdjust="spacingAndGlyphs" fill="#f4f4f4" stroke="#f4f4f4" stroke-width="0.2">2024</text>
<text x="1337.05" y="717" font-size="20.29" textLength="42.40" lengthAdjust="spacingAndGlyphs" fill="#f4f4f4" stroke="#f4f4f4" stroke-width="0.2">2025</text>
<path d="M1526.2 231.7L1535.2 216.1H1601V247.5H1535.2Z" fill="#4a96ff"/><path d="M1529 231.7L1536.6 218.4H1601V245.2H1536.6Z" fill="#1476ff"/>
<text x="1538.55" y="238.8" font-size="20.43" textLength="67.98" lengthAdjust="spacingAndGlyphs" fill="#f4f4f4" stroke="#f4f4f4" stroke-width="0.2">316.042</text>
</svg></body></html>
